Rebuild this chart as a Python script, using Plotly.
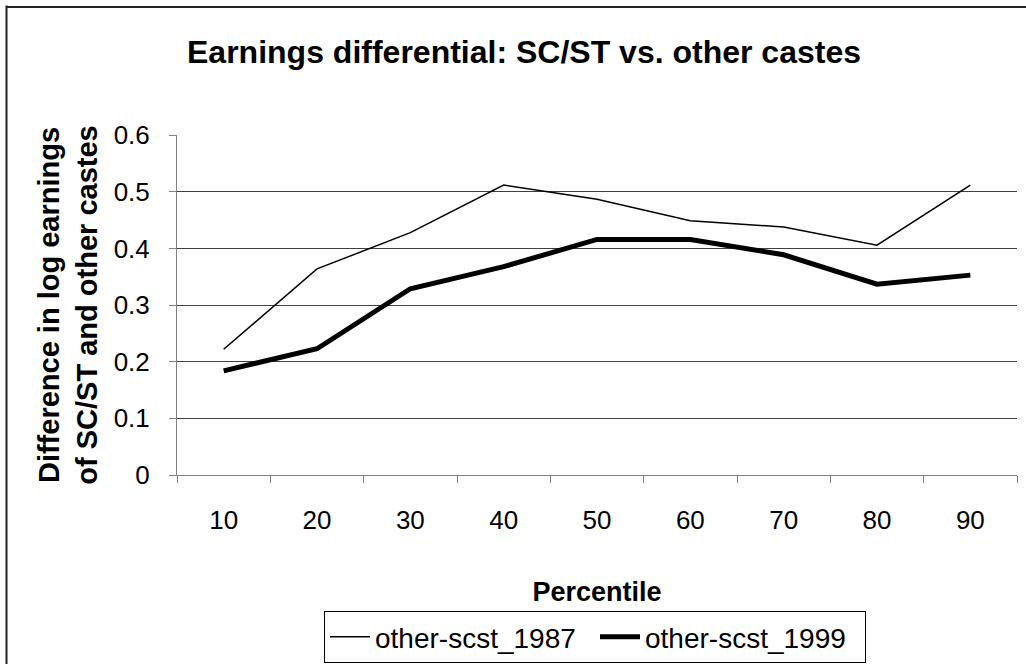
import plotly.graph_objects as go

percentiles = ["10", "20", "30", "40", "50", "60", "70", "80", "90"]
scst_1987 = [0.222, 0.364, 0.428, 0.512, 0.487, 0.449, 0.438, 0.406, 0.512]
scst_1999 = [0.184, 0.223, 0.329, 0.368, 0.416, 0.416, 0.389, 0.337, 0.353]
y_ticks = [0, 0.1, 0.2, 0.3, 0.4, 0.5, 0.6]
y_tick_text = ["0", "0.1", "0.2", "0.3", "0.4", "0.5", "0.6"]

FONT = "Liberation Sans, Arial, sans-serif"

fig = go.Figure()
fig.add_trace(go.Scatter(x=percentiles, y=scst_1987, mode="lines", name="other-scst_1987",
                         line=dict(color="black", width=1.5)))
fig.add_trace(go.Scatter(x=percentiles, y=scst_1999, mode="lines", name="other-scst_1999",
                         line=dict(color="black", width=5)))

W, H = 1026, 664
L, R, T, B = 177, 1017, 135, 475

bx0 = (5.5 - L) / (R - L)
bx1 = (7.5 - L) / (R - L)
by1 = (B - 5.5) / (B - T)

fig.update_layout(
    width=W, height=H,
    margin=dict(l=L, r=W - R, t=T, b=H - B),
    paper_bgcolor="white", plot_bgcolor="white",
    font=dict(family=FONT, color="black", size=26),
    title=dict(text="<b>Earnings differential: SC/ST vs. other castes</b>",
               x=(190 + 858) / 2 / W, xanchor="center", xref="container",
               y=1 - 52 / H, yanchor="middle", yref="container",
               font=dict(size=32, family=FONT, color="black")),
    showlegend=True,
    legend=dict(orientation="h", xref="container", yref="container",
                x=595 / W, xanchor="center", y=1 - 611 / H, yanchor="top",
                bordercolor="black", borderwidth=1, bgcolor="white",
                font=dict(size=28, family=FONT, color="black"),
                itemwidth=40, tracegroupgap=0, entrywidth=215, entrywidthmode="pixels"),
    xaxis=dict(type="category", tickson="boundaries", ticks="outside", ticklen=7,
               range=[-0.5, 8.5],
               tickcolor="#808080", showline=True, linecolor="#808080", linewidth=1,
               showgrid=False, zeroline=False, ticklabelstandoff=22,
               tickfont=dict(size=26, family=FONT, color="black"),
               title=dict(text="<b>Percentile</b>", standoff=47,
                          font=dict(size=27, family=FONT, color="black"))),
    yaxis=dict(range=[0, 0.6005], tickvals=y_ticks, ticktext=y_tick_text,
               ticks="outside", ticklen=7, tickcolor="#808080",
               showline=True, linecolor="#808080", linewidth=1,
               showgrid=True, gridcolor="#404040", gridwidth=1, zeroline=False,
               ticklabelstandoff=14,
               tickfont=dict(size=26, family=FONT, color="black"),
               title=dict(text="<b>Difference in log earnings<br>of SC/ST and other castes</b>",
                          standoff=7,
                          font=dict(size=29, family=FONT, color="black"))),
    shapes=[
        dict(type="rect", xref="paper", yref="paper", x0=bx0, x1=bx1, y0=-0.6, y1=by1,
             line=dict(width=0), fillcolor="#222222", layer="below"),
    ],
)

post = (
    "document.body.style.margin='0';document.body.style.overflow='hidden';"
    "var d=document.createElement('div');"
    "d.style.cssText='position:absolute;left:6px;top:6px;width:1100px;height:2px;"
    "background:#222;pointer-events:none;z-index:10';"
    "document.body.appendChild(d);"
)
fig.write_html("out.html", config={"displayModeBar": False}, post_script=post)
